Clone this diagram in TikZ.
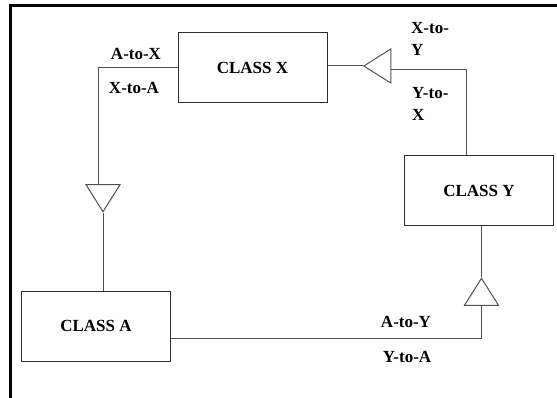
\documentclass[tikz,border=0pt]{standalone}
\usepackage{fontspec}
\setmainfont{Liberation Serif}
\usetikzlibrary{shapes.geometric,calc}
\definecolor{linegray}{RGB}{80,80,80}
\definecolor{boxgray}{RGB}{45,45,45}

\begin{document}
\begin{tikzpicture}[x=1pt,y=-1pt,
    classbox/.style={draw=boxgray, line width=1pt, minimum width=149pt, minimum height=70pt, inner sep=0pt, font=\fontsize{17}{22}\selectfont\bfseries},
    tri/.style={draw=linegray, line width=1pt, isosceles triangle, isosceles triangle stretches, minimum width=34pt, minimum height=27pt, inner sep=0pt},
    lbl/.style={inner sep=0pt, align=left, font=\fontsize{17}{22}\selectfont\bfseries},
    link/.style={draw=linegray, line width=1pt}]
        \useasboundingbox (0,0) rectangle (557,398);
        % frame
        \draw[line width=3pt] (10.5,398) -- (10.5,5.5) -- (557,5.5);
        % classes
        \node[classbox] (X) at (252.5,68) {CLASS X};
        \node[classbox] (A) at (96,326) {CLASS A};
        \node[classbox] (Y) at (479,190.5) {CLASS Y};
        % triangles
        \node[tri, shape border rotate=270, anchor=apex] (tA) at (103,213) {};
        \node[tri, shape border rotate=180, anchor=apex] (tX) at (362.5,66) {};
        \node[tri, shape border rotate=90, anchor=apex] (tY) at (481.5,277) {};
        % labels
        \node[lbl] (lAX) at (136,54) {A-to-X};
        \node[lbl] (lXA) at (134,88) {X-to-A};
        \node[lbl, anchor=north west] (lXY) at (411,22) {X-to-\\Y};
        \node[lbl, anchor=north west] (lYX) at (412,87) {Y-to-\\X};
        \node[lbl] (lAY) at (406,322) {A-to-Y};
        \node[lbl] (lYA) at (407,357) {Y-to-A};
        % links
        \draw[link] (X.west) -| ($(tA.lower side)+(-5,0)$);
        \draw[link] (tA.apex) -- (tA.apex |- A.north);
        \draw[link] ($(A.east)+(0,12)$) -| (tY.lower side);
        \draw[link] (tY.apex) -- (tY.apex |- Y.south);
        \draw[link] ($(Y.north)+(-13,0)$) |- ($(tX.lower side)+(0,4)$);
        \draw[link] (tX.apex) -- (tX.apex -| X.east);
    \end{tikzpicture}
\end{document}
